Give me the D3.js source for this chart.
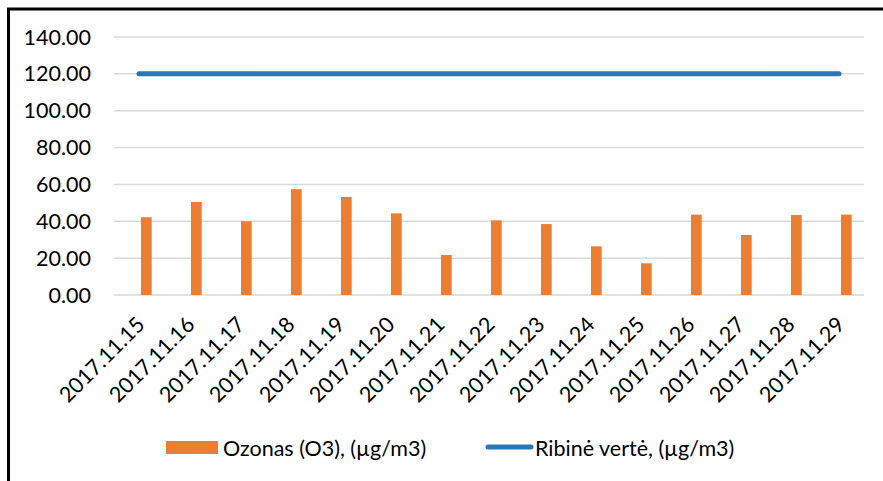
<!DOCTYPE html>
<html>
<head>
	<meta charset="utf-8">
	<title>Ozonas (O3)</title>
	<script src="https://cdn.jsdelivr.net/npm/d3@7/dist/d3.min.js"></script>
	<style>
		body { margin: 0; background: #fff; }
		svg { display: block; font-family: Lato, "Open Sans", sans-serif; }
		.grid line { stroke: #d9d9d9; stroke-width: 1.5px; }
		.tick-label { font-size: 21.5px; fill: #000; }
		.legend text { font-size: 21.5px; fill: #000; }
	</style>
</head>
<body>
<svg id="chart" width="883" height="481"></svg>
<script>
	// values
	const dates = ["2017.11.15", "2017.11.16", "2017.11.17", "2017.11.18", "2017.11.19",
		"2017.11.20", "2017.11.21", "2017.11.22", "2017.11.23", "2017.11.24",
		"2017.11.25", "2017.11.26", "2017.11.27", "2017.11.28", "2017.11.29"];
	const ozone = [42.2, 50.5, 40.0, 57.4, 53.2, 44.3, 21.7, 40.5, 38.5, 26.4, 17.2, 43.6, 32.6, 43.4, 43.6];
	const limit = [120, 120, 120, 120, 120, 120, 120, 120, 120, 120, 120, 120, 120, 120, 120];
	const yTicks = [0, 20, 40, 60, 80, 100, 120, 140];
	const seriesNames = ["Ozonas (O3), (µg/m3)", "Ribinė vertė, (µg/m3)"];

	const orange = "#ed7d31";
	const blue = "#2e75b6";

	const svg = d3.select("#chart");

	// outer frame, runs off the right and bottom edges like the screenshot
	svg.append("rect")
		.attr("x", 8.5).attr("y", 9)
		.attr("width", 1000).attr("height", 1000)
		.attr("fill", "none").attr("stroke", "#000").attr("stroke-width", 3);

	const x = d3.scaleBand().domain(dates).range([114, 864]);
	const y = d3.scaleLinear().domain([0, 140]).range([295, 37]);

	// horizontal gridlines
	svg.append("g").attr("class", "grid")
		.selectAll("line").data(yTicks).join("line")
			.attr("x1", x.range()[0]).attr("x2", x.range()[1])
			.attr("y1", d => y(d)).attr("y2", d => y(d));

	// y labels
	svg.append("g")
		.selectAll("text").data(yTicks).join("text")
			.attr("class", "tick-label")
			.attr("x", 91)
			.attr("y", d => y(d))
			.attr("dy", "0.35em")
			.attr("text-anchor", "end")
			.text(d3.format(".2f"));

	// bars sit a little right of the category centre, like in the original
	const barW = 10.7;
	svg.append("g")
		.selectAll("rect").data(ozone).join("rect")
			.attr("x", (d, i) => x(dates[i]) + x.bandwidth() / 2 + 2)
			.attr("y", d => y(d))
			.attr("width", barW)
			.attr("height", d => y(0) - y(d))
			.attr("fill", orange);

	// limit line
	const line = d3.line()
		.x((d, i) => x(dates[i]) + x.bandwidth() / 2)
		.y(d => y(d));
	svg.append("path")
		.datum(limit)
		.attr("d", line)
		.attr("fill", "none")
		.attr("stroke", blue)
		.attr("stroke-width", 5)
		.attr("stroke-linecap", "round");

	// rotated date labels
	svg.append("g")
		.selectAll("text").data(dates).join("text")
			.attr("class", "tick-label")
			.attr("text-anchor", "end")
			.attr("transform", d => "translate(" + (x(d) + x.bandwidth() / 2 + 7) + ",326) rotate(-45)")
			.text(d => d);

	// legend
	const legend = svg.append("g").attr("class", "legend");
	legend.append("rect")
		.attr("x", 166).attr("y", 441)
		.attr("width", 52).attr("height", 13)
		.attr("fill", orange);
	legend.append("text")
		.attr("x", 223).attr("y", 448).attr("dy", "0.35em")
		.text(seriesNames[0]);
	legend.append("line")
		.attr("x1", 488).attr("x2", 531)
		.attr("y1", 447).attr("y2", 447)
		.attr("stroke", blue).attr("stroke-width", 5)
		.attr("stroke-linecap", "round");
	legend.append("text")
		.attr("x", 535).attr("y", 448).attr("dy", "0.35em")
		.text(seriesNames[1]);
</script>
</body>
</html>
